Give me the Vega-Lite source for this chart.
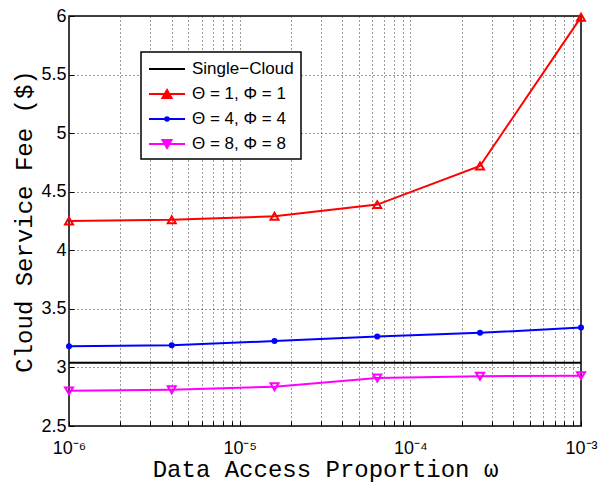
{
  "$schema": "https://vega.github.io/schema/vega-lite/v6.json",
  "width": 512,
  "height": 410,
  "autosize": {"type": "none"},
  "padding": {"left": 69, "top": 16, "right": 18, "bottom": 57},
  "background": "white",
  "config": {
    "view": {"stroke": "black", "strokeWidth": 1.5},
    "axis": {
      "domain": false,
      "grid": true,
      "gridDash": [1, 3],
      "gridColor": "#333",
      "gridWidth": 1,
      "tickColor": "black",
      "tickSize": -5,
      "labelFont": "Liberation Sans",
      "labelFontSize": 18,
      "labelColor": "black",
      "titleFont": "Liberation Mono",
      "titleFontSize": 24,
      "titleFontWeight": "normal",
      "titleColor": "black"
    },
    "legend": {
      "labelFont": "Liberation Sans",
      "labelFontSize": 17,
      "labelColor": "black"
    }
  },
  "data": {
    "values": [
      {"series": "Single−Cloud", "omega": 0.000001, "fee": 3.04},
      {"series": "Single−Cloud", "omega": 0.001, "fee": 3.04},
      {"series": "Θ = 1, Φ = 1", "omega": 0.000001, "fee": 4.25},
      {"series": "Θ = 1, Φ = 1", "omega": 0.000004, "fee": 4.26},
      {"series": "Θ = 1, Φ = 1", "omega": 0.000016, "fee": 4.29},
      {"series": "Θ = 1, Φ = 1", "omega": 0.000064, "fee": 4.39},
      {"series": "Θ = 1, Φ = 1", "omega": 0.000256, "fee": 4.72},
      {"series": "Θ = 1, Φ = 1", "omega": 0.001, "fee": 5.99},
      {"series": "Θ = 4, Φ = 4", "omega": 0.000001, "fee": 3.18},
      {"series": "Θ = 4, Φ = 4", "omega": 0.000004, "fee": 3.19},
      {"series": "Θ = 4, Φ = 4", "omega": 0.000016, "fee": 3.225},
      {"series": "Θ = 4, Φ = 4", "omega": 0.000064, "fee": 3.265},
      {"series": "Θ = 4, Φ = 4", "omega": 0.000256, "fee": 3.295},
      {"series": "Θ = 4, Φ = 4", "omega": 0.001, "fee": 3.34},
      {"series": "Θ = 8, Φ = 8", "omega": 0.000001, "fee": 2.80},
      {"series": "Θ = 8, Φ = 8", "omega": 0.000004, "fee": 2.81},
      {"series": "Θ = 8, Φ = 8", "omega": 0.000016, "fee": 2.835},
      {"series": "Θ = 8, Φ = 8", "omega": 0.000064, "fee": 2.91},
      {"series": "Θ = 8, Φ = 8", "omega": 0.000256, "fee": 2.925},
      {"series": "Θ = 8, Φ = 8", "omega": 0.001, "fee": 2.93}
    ]
  },
  "encoding": {
    "x": {
      "field": "omega",
      "type": "quantitative",
      "scale": {"type": "log", "domain": [0.000001, 0.001], "nice": false},
      "axis": {
        "title": "Data Access Proportion ω",
        "values": [0.000001, 0.000002, 0.000003, 0.000004, 0.000005, 0.000006, 0.000007, 0.000008, 0.000009,
                   0.00001, 0.00002, 0.00003, 0.00004, 0.00005, 0.00006, 0.00007, 0.00008, 0.00009,
                   0.0001, 0.0002, 0.0003, 0.0004, 0.0005, 0.0006, 0.0007, 0.0008, 0.0009, 0.001],
        "labelExpr": "abs(datum.value-1e-6)<1e-9 ? '10⁻⁶' : abs(datum.value-1e-5)<1e-8 ? '10⁻⁵' : abs(datum.value-1e-4)<1e-7 ? '10⁻⁴' : abs(datum.value-1e-3)<1e-6 ? '10⁻³' : ''",
        "labelOverlap": false,
        "labelFlush": false,
        "labelPadding": 18,
        "titlePadding": 0
      }
    },
    "y": {
      "field": "fee",
      "type": "quantitative",
      "scale": {"domain": [2.5, 6], "nice": false, "zero": false},
      "axis": {
        "title": "Cloud Service Fee ($)",
        "values": [2.5, 3, 3.5, 4, 4.5, 5, 5.5, 6],
        "format": "~g",
        "labelPadding": 8,
        "titlePadding": 4
      }
    }
  },
  "layer": [
    {
      "mark": {"type": "line", "strokeWidth": 2},
      "encoding": {
        "color": {
          "field": "series",
          "type": "nominal",
          "scale": {
            "domain": ["Single−Cloud", "Θ = 1, Φ = 1", "Θ = 4, Φ = 4", "Θ = 8, Φ = 8"],
            "range": ["#000000", "#ff0000", "#0000ff", "#ff00ff"]
          },
          "legend": {
            "title": null,
            "orient": "none",
            "legendX": 72,
            "legendY": 36,
            "padding": 7,
            "rowPadding": 7,
            "labelOffset": 24,
            "symbolSize": 324,
            "symbolStrokeWidth": 2,
            "fillColor": "white",
            "strokeColor": "black",
            "encode": {
              "legend": {"update": {"strokeWidth": {"value": 1.5}}},
              "symbols": {
                "update": {
                  "shape": {"signal": "datum.value === 'Single−Cloud' ? 'M-1,0H3' : datum.value === 'Θ = 1, Φ = 1' ? 'M-1,0H3M1,-0.433L1.5,0.433L0.5,0.433Z' : datum.value === 'Θ = 4, Φ = 4' ? 'M-1,0H3M1.2,0A0.2,0.2,0,1,1,0.8,0A0.2,0.2,0,1,1,1.2,0' : 'M-1,0H3M1,0.433L1.5,-0.433L0.5,-0.433Z'"},
                  "size": {"value": 324},
                  "strokeWidth": {"value": 2},
                  "fill": {"value": "transparent"}
                }
              }
            }
          }
        }
      }
    },
    {
      "transform": [{"filter": "datum.series === 'Θ = 1, Φ = 1'"}],
      "mark": {"type": "point", "shape": "triangle-up", "filled": false, "strokeWidth": 2, "size": 64, "opacity": 1},
      "encoding": {"color": {"field": "series", "type": "nominal", "legend": null}}
    },
    {
      "transform": [{"filter": "datum.series === 'Θ = 4, Φ = 4'"}],
      "mark": {"type": "point", "shape": "circle", "filled": true, "size": 36, "opacity": 1},
      "encoding": {"color": {"field": "series", "type": "nominal", "legend": null}}
    },
    {
      "transform": [{"filter": "datum.series === 'Θ = 8, Φ = 8'"}],
      "mark": {"type": "point", "shape": "triangle-down", "filled": false, "strokeWidth": 2, "size": 64, "opacity": 1},
      "encoding": {"color": {"field": "series", "type": "nominal", "legend": null}}
    }
  ]
}
